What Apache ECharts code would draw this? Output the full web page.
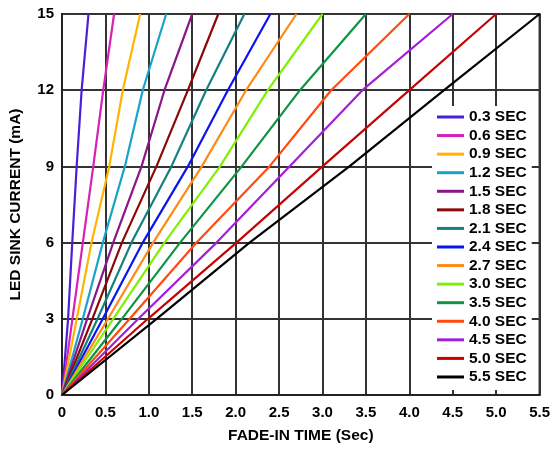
<!DOCTYPE html>
<html>
<head>
<meta charset="utf-8">
<script src="https://cdn.jsdelivr.net/npm/echarts@6/dist/echarts.min.js"></script>
<style>html,body{margin:0;padding:0;background:#fff}#c{width:553px;height:449px}</style>
</head>
<body>
<div id="c"></div>
<script>
// Series names (fade-in settings)
const seriesNames = ["0.3 SEC","0.6 SEC","0.9 SEC","1.2 SEC","1.5 SEC","1.8 SEC","2.1 SEC","2.4 SEC","2.7 SEC","3.0 SEC","3.5 SEC","4.0 SEC","4.5 SEC","5.0 SEC","5.5 SEC"];
const seriesColors = ["#4a1fd8","#d81fb8","#ffb400","#18a4c8","#8a168a","#8a0808","#148080","#0a14f0","#ff8a18","#80f000","#0e9442","#ff4a10","#a41ed8","#c40404","#000000"];
// Current levels (mA) at which times were read
const currents = [0, 3, 6, 9, 12, 15];
// Time (s) at which each curve reaches the current levels above
const t03 = [0, 0.07, 0.118, 0.169, 0.226, 0.305];
const t06 = [0, 0.12, 0.24, 0.36, 0.475, 0.60];
const t09 = [0, 0.17, 0.34, 0.544, 0.70, 0.90];
const t12 = [0, 0.24, 0.47, 0.724, 0.93, 1.20];
const t15 = [0, 0.29, 0.59, 0.916, 1.18, 1.50];
const t18 = [0, 0.35, 0.69, 1.088, 1.45, 1.80];
const t21 = [0, 0.41, 0.80, 1.26, 1.66, 2.10];
const t24 = [0, 0.47, 0.93, 1.45, 1.91, 2.40];
const t27 = [0, 0.53, 1.05, 1.61, 2.12, 2.70];
const t30 = [0, 0.59, 1.18, 1.82, 2.37, 3.00];
const t35 = [0, 0.69, 1.36, 2.07, 2.74, 3.50];
const t40 = [0, 0.78, 1.55, 2.39, 3.10, 4.00];
const t45 = [0, 0.88, 1.78, 2.62, 3.46, 4.50];
const t50 = [0, 0.99, 2.01, 3.00, 4.00, 5.00];
const t55 = [0, 1.09, 2.16, 3.31, 4.40, 5.50];
const allTimes = [t03,t06,t09,t12,t15,t18,t21,t24,t27,t30,t35,t40,t45,t50,t55];
const xTicks = ["0","0.5","1.0","1.5","2.0","2.5","3.0","3.5","4.0","4.5","5.0","5.5"];

const font = "'Liberation Sans', Arial, sans-serif";
const chart = echarts.init(document.getElementById('c'));
chart.setOption({
  animation: false,
  backgroundColor: '#fff',
  grid: {left: 62, right: 12, top: 14, bottom: 53, show: true, borderColor: '#222', borderWidth: 2, backgroundColor: 'transparent'},
  xAxis: {
    type: 'value', min: 0, max: 5.5, interval: 0.5,
    name: 'FADE-IN TIME (Sec)', nameLocation: 'middle', nameGap: 33,
    nameTextStyle: {fontFamily: font, fontWeight: 'bold', fontSize: 15.5, color: '#000'},
    axisLine: {show: true, lineStyle: {color: '#222', width: 2}},
    axisTick: {show: false},
    axisLabel: {fontFamily: font, fontWeight: 'bold', fontSize: 15, color: '#000', margin: 10,
      formatter: v => xTicks[Math.round(v / 0.5)]},
    splitLine: {show: true, lineStyle: {color: '#333', width: 2}}
  },
  yAxis: {
    type: 'value', min: 0, max: 15, interval: 3,
    name: 'LED SINK CURRENT (mA)', nameLocation: 'middle', nameGap: 38, nameRotate: 90,
    nameTextStyle: {fontFamily: font, fontWeight: 'bold', fontSize: 15.5, color: '#000'},
    axisLine: {show: true, lineStyle: {color: '#222', width: 2}},
    axisTick: {show: false},
    axisLabel: {fontFamily: font, fontWeight: 'bold', fontSize: 15, color: '#000', margin: 8},
    splitLine: {show: true, lineStyle: {color: '#333', width: 2}}
  },
  legend: {
    orient: 'vertical', left: 432, top: 106,
    backgroundColor: '#fff', padding: [3, 5, 5, 5],
    icon: 'rect', itemWidth: 27, itemHeight: 3, itemGap: 2.57, itemTextGap: 4,
    textStyle: {fontFamily: font, fontWeight: 'bold', fontSize: 15.5, color: '#000', lineHeight: 16},
    data: seriesNames
  },
  series: seriesNames.map((n, i) => ({
    name: n, type: 'line', showSymbol: false, symbol: 'none',
    lineStyle: {color: seriesColors[i], width: 2.2},
    itemStyle: {color: seriesColors[i]},
    data: allTimes[i].map((t, k) => [t, currents[k]])
  }))
});
</script>
</body>
</html>
